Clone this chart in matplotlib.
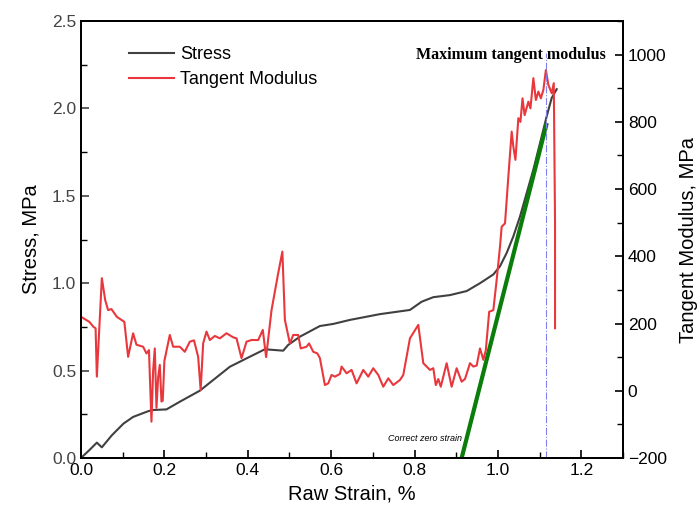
import matplotlib
matplotlib.use("Agg")
import matplotlib.pyplot as plt
from matplotlib.ticker import MultipleLocator, FormatStrFormatter

plt.rcParams['font.family'] = ['Liberation Sans', 'DejaVu Sans']

# ---- data ----
strain_s = [0.0, 0.02, 0.038, 0.05, 0.074, 0.102, 0.125, 0.157, 0.169, 0.205, 0.237, 0.285,
            0.317, 0.357, 0.397, 0.441, 0.485, 0.497, 0.525, 0.573, 0.605, 0.645, 0.717,
            0.789, 0.817, 0.845, 0.885, 0.925, 0.957, 0.989, 1.005, 1.021, 1.037, 1.053,
            1.069, 1.085, 1.101, 1.117, 1.129, 1.141]
stress = [0.0, 0.045, 0.088, 0.061, 0.13, 0.197, 0.235, 0.264, 0.274, 0.278, 0.322, 0.385,
          0.446, 0.522, 0.57, 0.622, 0.614, 0.647, 0.694, 0.755, 0.767, 0.79, 0.823,
          0.847, 0.894, 0.92, 0.932, 0.955, 1.0, 1.05, 1.097, 1.173, 1.268, 1.382,
          1.516, 1.65, 1.802, 1.955, 2.06, 2.11]

strain_tm = [0.0, 0.02, 0.03, 0.035, 0.038, 0.05, 0.058, 0.065, 0.073, 0.086,
             0.098, 0.104, 0.113, 0.125, 0.133, 0.149, 0.157, 0.163, 0.169, 0.173,
             0.177, 0.181, 0.185, 0.189, 0.193, 0.196, 0.2, 0.213, 0.221, 0.237,
             0.249, 0.261, 0.271, 0.281, 0.287, 0.293, 0.301, 0.309, 0.321, 0.333,
             0.349, 0.365, 0.373, 0.385, 0.397, 0.409, 0.425, 0.436, 0.444, 0.457,
             0.473, 0.483, 0.489, 0.495, 0.501, 0.509, 0.521, 0.527, 0.541, 0.547,
             0.557, 0.567, 0.573, 0.585, 0.593, 0.601, 0.609, 0.621, 0.625, 0.637,
             0.649, 0.661, 0.677, 0.689, 0.701, 0.713, 0.725, 0.737, 0.749, 0.765,
             0.773, 0.789, 0.809, 0.821, 0.837, 0.845, 0.851, 0.857, 0.863, 0.877,
             0.889, 0.901, 0.913, 0.921, 0.933, 0.941, 0.949, 0.957, 0.965, 0.971,
             0.979, 0.989, 0.997, 1.005, 1.009, 1.017, 1.025, 1.033, 1.037, 1.042,
             1.049, 1.054, 1.059, 1.064, 1.073, 1.078, 1.085, 1.091, 1.097, 1.103,
             1.109, 1.115, 1.121, 1.129, 1.134, 1.137, 1.137]
modulus = [220, 205, 190, 186, 42, 335, 270, 240, 243, 220,
           210, 205, 101, 171, 137, 131, 111, 121, -92, 60,
           126, -51, 40, 77, -32, -30, 89, 166, 131, 131,
           116, 146, 150, 101, 2, 141, 176, 151, 163, 156,
           171, 159, 156, 97, 146, 151, 151, 181, 100, 240,
           350, 414, 211, 176, 141, 166, 166, 126, 131, 141,
           116, 111, 97, 17, 22, 47, 42, 50, 72, 52,
           62, 22, 62, 42, 67, 47, 12, 37, 17, 32,
           47, 156, 196, 82, 62, 67, 17, 35, 12, 82,
           12, 67, 27, 35, 82, 72, 75, 126, 92, 121,
           235, 240, 330, 429, 488, 498, 637, 771, 726, 687,
           811, 800, 870, 820, 860, 840, 930, 865, 890, 870,
           895, 954, 910, 885, 915, 500, 186]

green_strain = [0.913, 1.116]
green_stress = [0.0, 1.905]
max_strain = 1.115

fig = plt.figure(figsize=(7.0, 5.15), dpi=100)
ax = fig.add_axes([81/700, 1-458/515, 542/700, 437/515])
ax2 = ax.twinx()

l1, = ax.plot(strain_s, stress, color='#404040', lw=1.5, label='Stress', zorder=3)
ax.plot(green_strain, green_stress, color='#0a7d0a', lw=3, zorder=4)
l2, = ax2.plot(strain_tm, modulus, color='#e8383d', lw=1.5, label='Tangent Modulus')
ax2.plot([max_strain, max_strain], [-200, 1005], color='#8080ee', lw=0.8, ls='-.')

ax.set_xlim(0, 1.3)
ax.set_ylim(0, 2.5)
ax2.set_ylim(-200, 1100)

ax.xaxis.set_major_locator(MultipleLocator(0.2))
ax.xaxis.set_minor_locator(MultipleLocator(0.1))
ax.yaxis.set_major_locator(MultipleLocator(0.5))
ax.yaxis.set_minor_locator(MultipleLocator(0.25))
ax2.yaxis.set_major_locator(MultipleLocator(200))
ax2.yaxis.set_minor_locator(MultipleLocator(100))

for a in (ax, ax2):
    a.tick_params(which='major', direction='in', length=6, width=1.2, labelsize=12.5)
    a.tick_params(which='minor', direction='in', length=4, width=1.0)
    for s in a.spines.values():
        s.set_linewidth(1.4)
ax.tick_params(axis='x', which='both', top=False)
ax.tick_params(axis='y', colors='#444444', labelcolor='#444444')
ax.spines['left'].set_color('#555555')
ax.xaxis.set_major_formatter(FormatStrFormatter('%.1f'))
ax.yaxis.set_major_formatter(FormatStrFormatter('%.1f'))

ax.set_xlabel('Raw Strain, %', fontsize=14.5, labelpad=5)
ax.set_ylabel('Stress, MPa', fontsize=14.5, labelpad=8)
ax2.set_ylabel('Tangent Modulus, MPa', fontsize=14.5, labelpad=9)

ax2.text(1.031, 1000, 'Maximum tangent modulus', family=['Liberation Serif', 'DejaVu Serif'],
         fontweight='bold', fontsize=11.5, ha='center', va='center')
ax.text(0.913, 0.11, 'Correct zero strain', fontstyle='italic', fontsize=6.5,
        ha='right', va='center')

ax.legend([l1, l2], ['Stress', 'Tangent Modulus'], loc='upper left',
          bbox_to_anchor=(0.058, 0.98), frameon=False, fontsize=13,
          handlelength=2.5, handletextpad=0.35, labelspacing=0.45)

fig.savefig('out.png', dpi=100)
